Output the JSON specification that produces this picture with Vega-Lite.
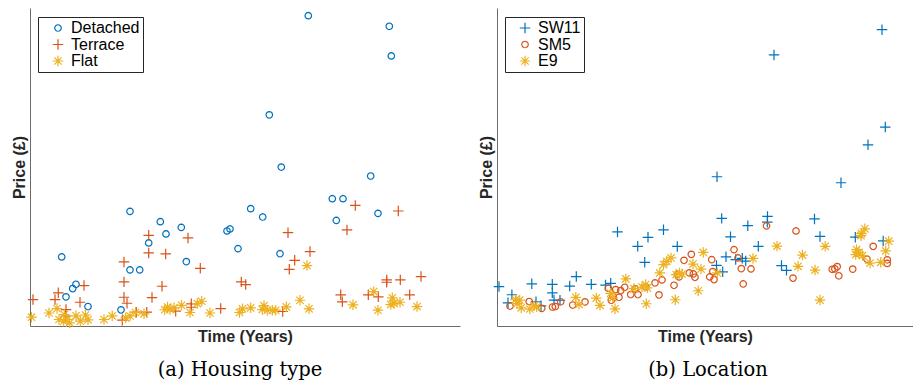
{
  "$schema": "https://vega.github.io/schema/vega-lite/v6.json",
  "background": "white",
  "padding": {"left": 11, "top": 8, "right": 0, "bottom": 0},
  "spacing": 18,
  "config": {
    "view": {"stroke": null},
    "axis": {"grid": false, "ticks": false, "labels": false, "domainColor": "#6b6b6b", "domainWidth": 1, "titleFont": "Arial", "titleFontSize": 16, "titleFontWeight": "bold", "titleColor": "#262626"},
    "axisY": {"titlePadding": 3},
    "axisX": {"titlePadding": 2},
    "title": {"font": "DejaVu Serif", "fontSize": 19.5, "fontWeight": "normal", "color": "#000000", "orient": "bottom", "offset": 17},
    "point": {"filled": false, "strokeWidth": 1.2, "size": 110, "opacity": 1}
  },
  "datasets": {
    "housing": [
      {"type": "Detached", "t": 278.3, "p": 310.8},
      {"type": "Detached", "t": 359.3, "p": 300.2},
      {"type": "Detached", "t": 361.3, "p": 270.5},
      {"type": "Detached", "t": 239.3, "p": 211.5},
      {"type": "Detached", "t": 251.3, "p": 159.2},
      {"type": "Detached", "t": 340.7, "p": 150.2},
      {"type": "Detached", "t": 302.3, "p": 127.5},
      {"type": "Detached", "t": 313, "p": 127.5},
      {"type": "Detached", "t": 348, "p": 112.8},
      {"type": "Detached", "t": 306.3, "p": 105.8},
      {"type": "Detached", "t": 100, "p": 114.8},
      {"type": "Detached", "t": 220.7, "p": 117.5},
      {"type": "Detached", "t": 232.7, "p": 109.2},
      {"type": "Detached", "t": 130.3, "p": 104.5},
      {"type": "Detached", "t": 151.3, "p": 98.8},
      {"type": "Detached", "t": 136, "p": 92.2},
      {"type": "Detached", "t": 197, "p": 95.2},
      {"type": "Detached", "t": 200, "p": 97.2},
      {"type": "Detached", "t": 118.7, "p": 83.2},
      {"type": "Detached", "t": 208, "p": 77.5},
      {"type": "Detached", "t": 250, "p": 72.5},
      {"type": "Detached", "t": 156.3, "p": 64.5},
      {"type": "Detached", "t": 31.7, "p": 69.2},
      {"type": "Detached", "t": 100, "p": 56.2},
      {"type": "Detached", "t": 109.7, "p": 56.2},
      {"type": "Detached", "t": 46, "p": 41.8},
      {"type": "Detached", "t": 42.7, "p": 37.5},
      {"type": "Detached", "t": 36, "p": 29.2},
      {"type": "Detached", "t": 58, "p": 19.5},
      {"type": "Detached", "t": 91, "p": 16.2},
      {"type": "Terrace", "t": 325.3, "p": 120.8},
      {"type": "Terrace", "t": 368.3, "p": 115.2},
      {"type": "Terrace", "t": 317, "p": 96.2},
      {"type": "Terrace", "t": 258, "p": 93.5},
      {"type": "Terrace", "t": 118.7, "p": 90.8},
      {"type": "Terrace", "t": 158, "p": 88.2},
      {"type": "Terrace", "t": 118.7, "p": 73.2},
      {"type": "Terrace", "t": 135.7, "p": 72.2},
      {"type": "Terrace", "t": 280, "p": 74.5},
      {"type": "Terrace", "t": 264.7, "p": 65.8},
      {"type": "Terrace", "t": 259.3, "p": 56.8},
      {"type": "Terrace", "t": 94, "p": 64.2},
      {"type": "Terrace", "t": 170.3, "p": 57.8},
      {"type": "Terrace", "t": 94, "p": 44.2},
      {"type": "Terrace", "t": 132, "p": 39.8},
      {"type": "Terrace", "t": 54, "p": 40.5},
      {"type": "Terrace", "t": 211.3, "p": 44.2},
      {"type": "Terrace", "t": 215.7, "p": 41.5},
      {"type": "Terrace", "t": 356.7, "p": 46.2},
      {"type": "Terrace", "t": 356.7, "p": 43.8},
      {"type": "Terrace", "t": 370.3, "p": 46.2},
      {"type": "Terrace", "t": 391, "p": 49.5},
      {"type": "Terrace", "t": 28.3, "p": 33.2},
      {"type": "Terrace", "t": 25, "p": 26.5},
      {"type": "Terrace", "t": 3, "p": 26.5},
      {"type": "Terrace", "t": 50, "p": 23.8},
      {"type": "Terrace", "t": 94, "p": 28.8},
      {"type": "Terrace", "t": 97, "p": 22.8},
      {"type": "Terrace", "t": 122, "p": 28.5},
      {"type": "Terrace", "t": 310.7, "p": 31.2},
      {"type": "Terrace", "t": 312.3, "p": 24.2},
      {"type": "Terrace", "t": 338.3, "p": 31.2},
      {"type": "Terrace", "t": 348.3, "p": 29.2},
      {"type": "Terrace", "t": 379.7, "p": 31.2},
      {"type": "Terrace", "t": 36, "p": 16.5},
      {"type": "Terrace", "t": 161.3, "p": 22.2},
      {"type": "Terrace", "t": 161.3, "p": 18.8},
      {"type": "Terrace", "t": 190.7, "p": 17.5},
      {"type": "Terrace", "t": 252.7, "p": 14.5},
      {"type": "Terrace", "t": 106.3, "p": 13.8},
      {"type": "Terrace", "t": 116.7, "p": 13.8},
      {"type": "Terrace", "t": 35.7, "p": 9.8},
      {"type": "Terrace", "t": 92.3, "p": 5.8},
      {"type": "Terrace", "t": 145.7, "p": 14.8},
      {"type": "Flat", "t": 1.5, "p": 8.8},
      {"type": "Flat", "t": 19, "p": 13},
      {"type": "Flat", "t": 27, "p": 17.5},
      {"type": "Flat", "t": 29, "p": 6.5},
      {"type": "Flat", "t": 33.7, "p": 4.8},
      {"type": "Flat", "t": 37, "p": 6.5},
      {"type": "Flat", "t": 39.7, "p": 3.2},
      {"type": "Flat", "t": 34.3, "p": 11.5},
      {"type": "Flat", "t": 46, "p": 10.2},
      {"type": "Flat", "t": 50.3, "p": 4.8},
      {"type": "Flat", "t": 55.5, "p": 11},
      {"type": "Flat", "t": 58, "p": 6.2},
      {"type": "Flat", "t": 74, "p": 6.5},
      {"type": "Flat", "t": 82.2, "p": 10.2},
      {"type": "Flat", "t": 95.7, "p": 8.2},
      {"type": "Flat", "t": 100, "p": 10},
      {"type": "Flat", "t": 105.5, "p": 13.5},
      {"type": "Flat", "t": 114, "p": 12.2},
      {"type": "Flat", "t": 134.7, "p": 16.3},
      {"type": "Flat", "t": 137.5, "p": 19},
      {"type": "Flat", "t": 140, "p": 16.5},
      {"type": "Flat", "t": 144, "p": 18.2},
      {"type": "Flat", "t": 151.5, "p": 20.7},
      {"type": "Flat", "t": 160, "p": 13.5},
      {"type": "Flat", "t": 167.3, "p": 22.5},
      {"type": "Flat", "t": 171.7, "p": 24.8},
      {"type": "Flat", "t": 180, "p": 13},
      {"type": "Flat", "t": 209.5, "p": 13.5},
      {"type": "Flat", "t": 212.5, "p": 17.2},
      {"type": "Flat", "t": 220.7, "p": 18.2},
      {"type": "Flat", "t": 234, "p": 20.5},
      {"type": "Flat", "t": 232.3, "p": 16.5},
      {"type": "Flat", "t": 237.3, "p": 15.8},
      {"type": "Flat", "t": 242.3, "p": 15.8},
      {"type": "Flat", "t": 245.7, "p": 15.8},
      {"type": "Flat", "t": 256.3, "p": 19.2},
      {"type": "Flat", "t": 270, "p": 25.8},
      {"type": "Flat", "t": 279, "p": 17.2},
      {"type": "Flat", "t": 277, "p": 60.5},
      {"type": "Flat", "t": 323, "p": 21.2},
      {"type": "Flat", "t": 343.7, "p": 34.5},
      {"type": "Flat", "t": 348, "p": 15.8},
      {"type": "Flat", "t": 362.3, "p": 28.2},
      {"type": "Flat", "t": 360.7, "p": 21.5},
      {"type": "Flat", "t": 364, "p": 22.5},
      {"type": "Flat", "t": 370, "p": 23.8},
      {"type": "Flat", "t": 387, "p": 19.5}
    ],
    "location": [
      {"area": "SW11", "t": 385, "p": 296.8},
      {"area": "SW11", "t": 277, "p": 271.5},
      {"area": "SW11", "t": 388.3, "p": 199.2},
      {"area": "SW11", "t": 371, "p": 181.5},
      {"area": "SW11", "t": 220, "p": 149.5},
      {"area": "SW11", "t": 344, "p": 143.5},
      {"area": "SW11", "t": 224.7, "p": 107.8},
      {"area": "SW11", "t": 270.5, "p": 109.8},
      {"area": "SW11", "t": 270.3, "p": 104},
      {"area": "SW11", "t": 317.5, "p": 107.2},
      {"area": "SW11", "t": 250.8, "p": 100.5},
      {"area": "SW11", "t": 120.5, "p": 94.2},
      {"area": "SW11", "t": 166.5, "p": 96.3},
      {"area": "SW11", "t": 151, "p": 88.8},
      {"area": "SW11", "t": 233.5, "p": 89.3},
      {"area": "SW11", "t": 323, "p": 89.7},
      {"area": "SW11", "t": 358.3, "p": 89},
      {"area": "SW11", "t": 386.2, "p": 85.2},
      {"area": "SW11", "t": 140.7, "p": 79.8},
      {"area": "SW11", "t": 180.3, "p": 79.7},
      {"area": "SW11", "t": 261.3, "p": 79.8},
      {"area": "SW11", "t": 147.7, "p": 63.8},
      {"area": "SW11", "t": 229, "p": 69.3},
      {"area": "SW11", "t": 238.7, "p": 66.5},
      {"area": "SW11", "t": 245.3, "p": 67.8},
      {"area": "SW11", "t": 248.7, "p": 65},
      {"area": "SW11", "t": 219.5, "p": 60.7},
      {"area": "SW11", "t": 225.7, "p": 54.3},
      {"area": "SW11", "t": 284.5, "p": 60.5},
      {"area": "SW11", "t": 289.5, "p": 55.8},
      {"area": "SW11", "t": 2, "p": 39.5},
      {"area": "SW11", "t": 14.9, "p": 31.3},
      {"area": "SW11", "t": 11, "p": 23.2},
      {"area": "SW11", "t": 34.8, "p": 42.2},
      {"area": "SW11", "t": 39, "p": 24.3},
      {"area": "SW11", "t": 44, "p": 20.2},
      {"area": "SW11", "t": 55.3, "p": 41.7},
      {"area": "SW11", "t": 55.3, "p": 33.2},
      {"area": "SW11", "t": 57, "p": 26},
      {"area": "SW11", "t": 63, "p": 25.8},
      {"area": "SW11", "t": 79.3, "p": 49.5},
      {"area": "SW11", "t": 72.7, "p": 40},
      {"area": "SW11", "t": 94.3, "p": 41.7},
      {"area": "SW11", "t": 108.5, "p": 41},
      {"area": "SW11", "t": 113.7, "p": 42.7},
      {"area": "SM5", "t": 13, "p": 20},
      {"area": "SM5", "t": 32.2, "p": 24.5},
      {"area": "SM5", "t": 44.7, "p": 17.7},
      {"area": "SM5", "t": 55.5, "p": 19},
      {"area": "SM5", "t": 58.3, "p": 19.5},
      {"area": "SM5", "t": 63.7, "p": 24.3},
      {"area": "SM5", "t": 75.7, "p": 21},
      {"area": "SM5", "t": 88, "p": 24.2},
      {"area": "SM5", "t": 111.3, "p": 37.8},
      {"area": "SM5", "t": 114.3, "p": 25.8},
      {"area": "SM5", "t": 116, "p": 29.5},
      {"area": "SM5", "t": 118.7, "p": 36.5},
      {"area": "SM5", "t": 122, "p": 28.8},
      {"area": "SM5", "t": 123.7, "p": 35.5},
      {"area": "SM5", "t": 127.7, "p": 38.8},
      {"area": "SM5", "t": 133.7, "p": 31.5},
      {"area": "SM5", "t": 141, "p": 31.5},
      {"area": "SM5", "t": 138, "p": 37.2},
      {"area": "SM5", "t": 148.7, "p": 39.2},
      {"area": "SM5", "t": 158, "p": 43.2},
      {"area": "SM5", "t": 162, "p": 31.2},
      {"area": "SM5", "t": 165, "p": 46.2},
      {"area": "SM5", "t": 177, "p": 40.8},
      {"area": "SM5", "t": 182, "p": 49.2},
      {"area": "SM5", "t": 180.3, "p": 51.5},
      {"area": "SM5", "t": 187, "p": 65.8},
      {"area": "SM5", "t": 194.3, "p": 71.8},
      {"area": "SM5", "t": 192.3, "p": 53.2},
      {"area": "SM5", "t": 196.3, "p": 52.2},
      {"area": "SM5", "t": 198, "p": 48.8},
      {"area": "SM5", "t": 212.7, "p": 49.2},
      {"area": "SM5", "t": 217, "p": 46.5},
      {"area": "SM5", "t": 214.7, "p": 66.5},
      {"area": "SM5", "t": 215.8, "p": 54.5},
      {"area": "SM5", "t": 237, "p": 76.5},
      {"area": "SM5", "t": 241, "p": 68.2},
      {"area": "SM5", "t": 244.3, "p": 57.5},
      {"area": "SM5", "t": 254, "p": 57.2},
      {"area": "SM5", "t": 246.2, "p": 42.2},
      {"area": "SM5", "t": 269.5, "p": 100.3},
      {"area": "SM5", "t": 296, "p": 48},
      {"area": "SM5", "t": 299, "p": 95.2},
      {"area": "SM5", "t": 335.2, "p": 56.8},
      {"area": "SM5", "t": 337.8, "p": 57.2},
      {"area": "SM5", "t": 340.2, "p": 59.5},
      {"area": "SM5", "t": 341.8, "p": 50.3},
      {"area": "SM5", "t": 355.7, "p": 57},
      {"area": "SM5", "t": 370, "p": 67},
      {"area": "SM5", "t": 376.2, "p": 79.8},
      {"area": "SM5", "t": 390.3, "p": 66.3},
      {"area": "SM5", "t": 390.3, "p": 62.7},
      {"area": "E9", "t": 18.5, "p": 26.5},
      {"area": "E9", "t": 22.7, "p": 26},
      {"area": "E9", "t": 20, "p": 22.5},
      {"area": "E9", "t": 24.2, "p": 18.2},
      {"area": "E9", "t": 32.8, "p": 17},
      {"area": "E9", "t": 37, "p": 20.3},
      {"area": "E9", "t": 39.7, "p": 19.2},
      {"area": "E9", "t": 78.8, "p": 28.7},
      {"area": "E9", "t": 82, "p": 21.7},
      {"area": "E9", "t": 99.3, "p": 28},
      {"area": "E9", "t": 103, "p": 20.7},
      {"area": "E9", "t": 113.7, "p": 32.7},
      {"area": "E9", "t": 115.8, "p": 28.2},
      {"area": "E9", "t": 118, "p": 17.2},
      {"area": "E9", "t": 128.8, "p": 47.2},
      {"area": "E9", "t": 137, "p": 37.5},
      {"area": "E9", "t": 145, "p": 39},
      {"area": "E9", "t": 148.6, "p": 41.5},
      {"area": "E9", "t": 150.3, "p": 38.2},
      {"area": "E9", "t": 149.3, "p": 22.3},
      {"area": "E9", "t": 162.8, "p": 53.2},
      {"area": "E9", "t": 166.5, "p": 61.5},
      {"area": "E9", "t": 169.8, "p": 64.8},
      {"area": "E9", "t": 174, "p": 68.2},
      {"area": "E9", "t": 178.3, "p": 26.3},
      {"area": "E9", "t": 179.2, "p": 51.5},
      {"area": "E9", "t": 182.5, "p": 53.2},
      {"area": "E9", "t": 185, "p": 52},
      {"area": "E9", "t": 196, "p": 62},
      {"area": "E9", "t": 201.2, "p": 35.3},
      {"area": "E9", "t": 204, "p": 57},
      {"area": "E9", "t": 206.3, "p": 73.7},
      {"area": "E9", "t": 220.3, "p": 53.2},
      {"area": "E9", "t": 256, "p": 67.7},
      {"area": "E9", "t": 280, "p": 80},
      {"area": "E9", "t": 301, "p": 59.8},
      {"area": "E9", "t": 305.5, "p": 71},
      {"area": "E9", "t": 318, "p": 56},
      {"area": "E9", "t": 323, "p": 26},
      {"area": "E9", "t": 328.2, "p": 79.8},
      {"area": "E9", "t": 359.5, "p": 76.5},
      {"area": "E9", "t": 358.7, "p": 71.5},
      {"area": "E9", "t": 362, "p": 73.8},
      {"area": "E9", "t": 365.5, "p": 70.5},
      {"area": "E9", "t": 367.8, "p": 97.3},
      {"area": "E9", "t": 364.5, "p": 92.5},
      {"area": "E9", "t": 364, "p": 90.5},
      {"area": "E9", "t": 373, "p": 63},
      {"area": "E9", "t": 383.7, "p": 63.8},
      {"area": "E9", "t": 388.7, "p": 75.2},
      {"area": "E9", "t": 391.7, "p": 85}
    ]
  },
  "hconcat": [
    {
      "width": 430,
      "height": 318,
      "data": {"name": "housing"},
      "title": {"text": "(a) Housing type", "dx": -5},
      "mark": {"type": "point", "filled": false, "clip": false},
      "encoding": {
        "x": {"field": "t", "type": "quantitative", "scale": {"domain": [0, 430], "nice": false, "zero": false}, "axis": {"title": "Time (Years)"}},
        "y": {"field": "p", "type": "quantitative", "scale": {"domain": [0, 318.5], "nice": false, "zero": false}, "axis": {"title": "Price (£)"}},
        "color": {
          "field": "type", "type": "nominal",
          "scale": {"domain": ["Detached", "Terrace", "Flat"], "range": ["#0072BD", "#D95319", "#EDB120"]},
          "legend": {"title": null, "orient": "none", "legendX": 8, "legendY": 9, "padding": 3, "rowPadding": 0.5, "symbolOffset": 9, "labelOffset": 5, "strokeColor": "#262626", "fillColor": "white", "labelFont": "Arial", "labelFontSize": 16, "labelColor": "#000000", "symbolSize": 110, "symbolStrokeWidth": 1.2, "labelLimit": 300}
        },
        "shape": {
          "field": "type", "type": "nominal",
          "scale": {"domain": ["Detached", "Terrace", "Flat"], "range": [
            "M0.62,0L0.573,0.237L0.438,0.438L0.237,0.573L0,0.62L-0.237,0.573L-0.438,0.438L-0.573,0.237L-0.62,0L-0.573,-0.237L-0.438,-0.438L-0.237,-0.573L0,-0.62L0.237,-0.573L0.438,-0.438L0.573,-0.237Z",
            "M-1,0L1,0M0,-1L0,1",
            "M-1,0L1,0M0,-1L0,1M-0.7,-0.7L0.7,0.7M-0.7,0.7L0.7,-0.7"
          ]},
          "legend": {"title": null, "orient": "none", "legendX": 8, "legendY": 9, "padding": 3, "rowPadding": 0.5, "symbolOffset": 9, "labelOffset": 5, "strokeColor": "#262626", "fillColor": "white", "labelFont": "Arial", "labelFontSize": 16, "labelColor": "#000000", "symbolSize": 110, "symbolStrokeWidth": 1.2, "labelLimit": 300}
        }
      }
    },
    {
      "width": 416,
      "height": 318,
      "data": {"name": "location"},
      "title": {"text": "(b) Location", "dx": 3},
      "mark": {"type": "point", "filled": false, "clip": false},
      "encoding": {
        "x": {"field": "t", "type": "quantitative", "scale": {"domain": [0, 416], "nice": false, "zero": false}, "axis": {"title": "Time (Years)"}},
        "y": {"field": "p", "type": "quantitative", "scale": {"domain": [0, 318.5], "nice": false, "zero": false}, "axis": {"title": "Price (£)"}},
        "color": {
          "field": "area", "type": "nominal",
          "scale": {"domain": ["SW11", "SM5", "E9"], "range": ["#0072BD", "#D95319", "#EDB120"]},
          "legend": {"title": null, "orient": "none", "legendX": 8, "legendY": 9, "padding": 3, "rowPadding": 0.5, "symbolOffset": 9, "labelOffset": 5, "strokeColor": "#262626", "fillColor": "white", "labelFont": "Arial", "labelFontSize": 16, "labelColor": "#000000", "symbolSize": 110, "symbolStrokeWidth": 1.2, "labelLimit": 300}
        },
        "shape": {
          "field": "area", "type": "nominal",
          "scale": {"domain": ["SW11", "SM5", "E9"], "range": [
            "M-1,0L1,0M0,-1L0,1",
            "M0.62,0L0.573,0.237L0.438,0.438L0.237,0.573L0,0.62L-0.237,0.573L-0.438,0.438L-0.573,0.237L-0.62,0L-0.573,-0.237L-0.438,-0.438L-0.237,-0.573L0,-0.62L0.237,-0.573L0.438,-0.438L0.573,-0.237Z",
            "M-1,0L1,0M0,-1L0,1M-0.7,-0.7L0.7,0.7M-0.7,0.7L0.7,-0.7"
          ]},
          "legend": {"title": null, "orient": "none", "legendX": 8, "legendY": 9, "padding": 3, "rowPadding": 0.5, "symbolOffset": 9, "labelOffset": 5, "strokeColor": "#262626", "fillColor": "white", "labelFont": "Arial", "labelFontSize": 16, "labelColor": "#000000", "symbolSize": 110, "symbolStrokeWidth": 1.2, "labelLimit": 300}
        }
      }
    }
  ],
  "resolve": {"scale": {"color": "independent", "shape": "independent"}, "legend": {"color": "independent", "shape": "independent"}}
}
